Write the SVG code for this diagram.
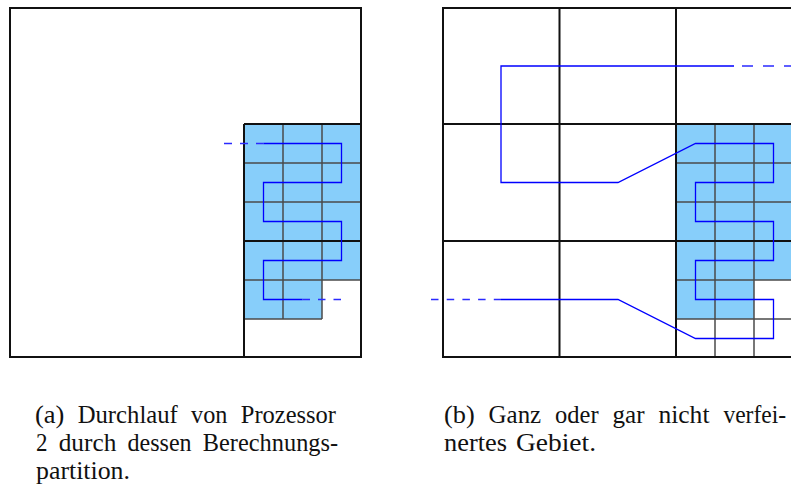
<svg xmlns="http://www.w3.org/2000/svg" width="791" height="487" viewBox="0 0 791 487">
  <style>
    .coarse { fill: none; stroke: #111; stroke-width: 2; }
    .fine { fill: none; stroke: #4a4a4a; stroke-width: 1.5; }
    .region { fill: #87cefa; stroke: none; }
    .curve { fill: none; stroke: #0000ff; stroke-width: 1.3; stroke-linejoin: miter; }
    .lead { fill: none; stroke: #2a2aff; stroke-width: 1.3; }
    text { font-family: 'Liberation Serif', 'Times New Roman', serif; font-size: 25.5px; fill: #111; }
  </style>

  <rect x="0" y="0" width="791" height="487" fill="#fff"/>

  <!-- (a) partition of processor 2 -->
  <g id="panel-a">
    <polygon class="region" points="244,124 361,124 361,280 322,280 322,319 244,319"/>
    <g id="grid-a-fine">
      <line class="fine" x1="283" y1="124" x2="283" y2="319"/>
      <line class="fine" x1="322" y1="124" x2="322" y2="319"/>
      <line class="fine" x1="244" y1="163" x2="361" y2="163"/>
      <line class="fine" x1="244" y1="202" x2="361" y2="202"/>
      <line class="fine" x1="244" y1="280" x2="361" y2="280"/>
      <line class="fine" x1="244" y1="319" x2="322" y2="319"/>
    </g>
    <g id="grid-a-coarse">
      <rect class="coarse" x="10" y="8" width="351" height="349"/>
      <line class="coarse" x1="244" y1="124" x2="244" y2="357"/>
      <line class="coarse" x1="244" y1="124" x2="361" y2="124"/>
      <line class="coarse" x1="244" y1="241" x2="361" y2="241"/>
    </g>
    <g id="curve-a">
      <line class="lead" x1="224" y1="143.5" x2="263.5" y2="143.5" stroke-dasharray="8 8"/>
      <polyline class="curve" points="263.5,143.5 341.5,143.5 341.5,182.5 263.5,182.5 263.5,221.5 341.5,221.5 341.5,260.5 263.5,260.5 263.5,299.5 302.5,299.5"/>
      <line class="lead" x1="302.5" y1="299.5" x2="341" y2="299.5" stroke-dasharray="7.5 8"/>
    </g>
  </g>

  <!-- (b) uniformly refined or unrefined domain -->
  <g id="panel-b">
    <polygon class="region" points="676,124 793,124 793,280 754,280 754,319 676,319"/>
    <g id="grid-b-fine">
      <line class="fine" x1="715" y1="124" x2="715" y2="357"/>
      <line class="fine" x1="754" y1="124" x2="754" y2="357"/>
      <line class="fine" x1="676" y1="163" x2="793" y2="163"/>
      <line class="fine" x1="676" y1="202" x2="793" y2="202"/>
      <line class="fine" x1="676" y1="280" x2="793" y2="280"/>
      <line class="fine" x1="676" y1="319" x2="793" y2="319"/>
    </g>
    <g id="grid-b-coarse">
      <rect class="coarse" x="443" y="8" width="350" height="349"/>
      <line class="coarse" x1="559.5" y1="8" x2="559.5" y2="357"/>
      <line class="coarse" x1="676" y1="8" x2="676" y2="357"/>
      <line class="coarse" x1="443" y1="124" x2="793" y2="124"/>
      <line class="coarse" x1="443" y1="241" x2="793" y2="241"/>
    </g>
    <g id="curve-b">
      <line class="lead" x1="742" y1="66" x2="795" y2="66" stroke-dasharray="11 10"/>
      <polyline class="curve" points="734,66 501,66 501,182.5 618,182.5 695.5,143.5 773.5,143.5 773.5,182.5 695.5,182.5 695.5,221.5 773.5,221.5 773.5,260.5 695.5,260.5 695.5,299.5 773.5,299.5 773.5,338.5 695.5,338.5 618,299.5 501,299.5"/>
      <line class="lead" x1="431" y1="299.5" x2="501" y2="299.5" stroke-dasharray="7.5 8.2"/>
    </g>
  </g>

  <!-- captions, justified word by word -->
  <g id="caption-a">
    <text y="423" font-family="Liberation Serif, serif">
      <tspan x="35" textLength="29.4" lengthAdjust="spacingAndGlyphs">(a)</tspan>
      <tspan x="77.7" textLength="100.1" lengthAdjust="spacingAndGlyphs">Durchlauf</tspan>
      <tspan x="191.1" textLength="36.4" lengthAdjust="spacingAndGlyphs">von</tspan>
      <tspan x="240.8" textLength="95.2" lengthAdjust="spacingAndGlyphs">Prozessor</tspan>
    </text>
    <text y="451" font-family="Liberation Serif, serif">
      <tspan x="36" textLength="11.5" lengthAdjust="spacingAndGlyphs">2</tspan>
      <tspan x="58.7" textLength="57.6" lengthAdjust="spacingAndGlyphs">durch</tspan>
      <tspan x="127.5" textLength="64.1" lengthAdjust="spacingAndGlyphs">dessen</tspan>
      <tspan x="202.8" textLength="135.3" lengthAdjust="spacingAndGlyphs">Berechnungs-</tspan>
    </text>
    <text x="36" y="479" font-family="Liberation Serif, serif" textLength="94" lengthAdjust="spacingAndGlyphs">partition.</text>
  </g>
  <g id="caption-b">
    <text y="423" font-family="Liberation Serif, serif">
      <tspan x="444" textLength="30.7" lengthAdjust="spacingAndGlyphs">(b)</tspan>
      <tspan x="488.6" textLength="52.6" lengthAdjust="spacingAndGlyphs">Ganz</tspan>
      <tspan x="555.1" textLength="43.5" lengthAdjust="spacingAndGlyphs">oder</tspan>
      <tspan x="612.5" textLength="32" lengthAdjust="spacingAndGlyphs">gar</tspan>
      <tspan x="658.4" textLength="51.1" lengthAdjust="spacingAndGlyphs">nicht</tspan>
      <tspan x="723.4" textLength="62.7" lengthAdjust="spacingAndGlyphs">verfei-</tspan>
    </text>
    <text y="451" font-family="Liberation Serif, serif">
      <tspan x="444" textLength="63" lengthAdjust="spacingAndGlyphs">nertes</tspan>
      <tspan x="516" textLength="80" lengthAdjust="spacingAndGlyphs">Gebiet.</tspan>
    </text>
  </g>
</svg>
